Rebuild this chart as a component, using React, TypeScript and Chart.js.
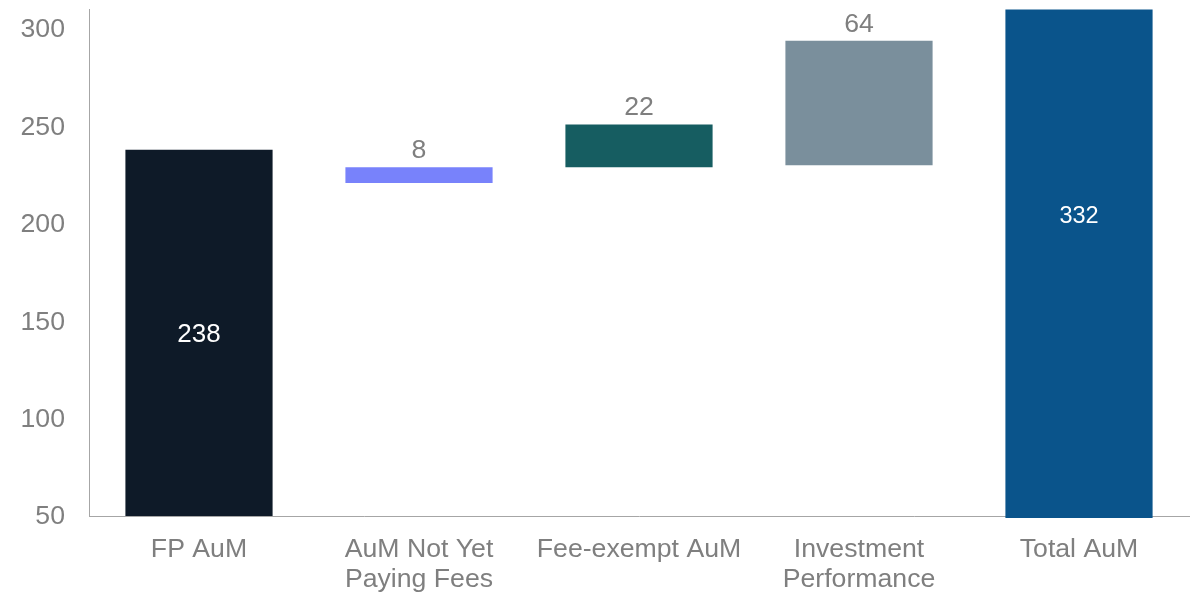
import { useEffect, useRef } from "react";
import { Chart, registerables } from "chart.js";

Chart.register(...registerables);

const categories: string[][] = [
  ["FP AuM"],
  ["AuM Not Yet", "Paying Fees"],
  ["Fee-exempt AuM"],
  ["Investment", "Performance"],
  ["Total AuM"],
];
const barStart = [50, 221, 229, 230, 49];
const barEnd = [238, 229, 251, 294, 332];
const valueLabels = ["238", "8", "22", "64", "332"];
const labelInside = [true, false, false, false, true];
const totalLabelAt = 205;
const barColors = ["#0e1a28", "#7882fb", "#165d61", "#7a8f9c", "#0a548b"];
const yTicks = [50, 100, 150, 200, 250, 300];

const FONT = "'Liberation Sans', Arial, sans-serif";
const GREY = "#7f7f7f";
const FS = 26.67;

const labelPlugin = {
  id: "valueLabels",
  afterDatasetsDraw(chart: any) {
    const ctx = chart.ctx;
    const meta = chart.getDatasetMeta(0);
    const yScale = chart.scales.y;
    meta.data.forEach((bar: any, i: number) => {
      const { x, y, base } = bar.getProps(["x", "y", "base"], true);
      ctx.save();
      ctx.textAlign = "center";
      if (labelInside[i]) {
        ctx.fillStyle = "#ffffff";
        const last = i === meta.data.length - 1;
        ctx.font = `${last ? 23.5 : 26}px ${FONT}`;
        ctx.textBaseline = "middle";
        const cy = last ? yScale.getPixelForValue(totalLabelAt) : (y + base) / 2;
        ctx.fillText(valueLabels[i], x, cy + 2);
      } else {
        ctx.fillStyle = GREY;
        ctx.font = `${FS}px ${FONT}`;
        ctx.textBaseline = "alphabetic";
        ctx.fillText(valueLabels[i], x, Math.min(y, base) - 9);
      }
      ctx.restore();
    });
  },
};

export default function App() {
  const ref = useRef<HTMLCanvasElement | null>(null);
  useEffect(() => {
    if (!ref.current) return;
    const chart = new Chart(ref.current, {
      type: "bar",
      data: {
        labels: categories,
        datasets: [
          {
            data: barStart.map((s, i) => [s, barEnd[i]]) as any,
            backgroundColor: barColors,
            borderWidth: 0,
            barPercentage: 0.669,
            categoryPercentage: 1,
            clip: { left: false, top: 0, right: false, bottom: 4 } as any,
          },
        ],
      },
      options: {
        animation: false,
        responsive: true,
        maintainAspectRatio: false,
        layout: { padding: { top: 9.5, right: 12, left: 0, bottom: 0 } },
        plugins: {
          legend: { display: false },
          tooltip: { enabled: false },
        },
        scales: {
          x: {
            z: 1,
            grid: { display: false, drawTicks: false },
            border: { display: true, color: "#a6a6a6", width: 1 },
            ticks: {
              color: GREY,
              font: { family: FONT, size: FS, lineHeight: 1.125 },
              padding: 19,
              maxRotation: 0,
              autoSkip: false,
            },
            afterFit(scale: any) {
              scale.height = 78;
              scale.paddingLeft = 0;
              scale.paddingRight = 0;
            },
          },
          y: {
            min: 50,
            max: 310,
            grid: { display: false, drawTicks: false },
            border: { display: true, color: "#a6a6a6", width: 1 },
            ticks: {
              color: GREY,
              font: { family: FONT, size: FS },
              padding: 24,
              labelOffset: 1,
            },
            afterBuildTicks(scale: any) {
              scale.ticks = yTicks.map((v) => ({ value: v }));
            },
            afterFit(scale: any) {
              scale.width = 89;
              scale.paddingTop = 0;
              scale.paddingBottom = 0;
            },
          },
        },
      },
      plugins: [labelPlugin],
    });
    return () => chart.destroy();
  }, []);
  return (
    <div style={{ position: "fixed", left: 0, top: 0, width: 1201, height: 594 }}>
      <canvas ref={ref} />
    </div>
  );
}
